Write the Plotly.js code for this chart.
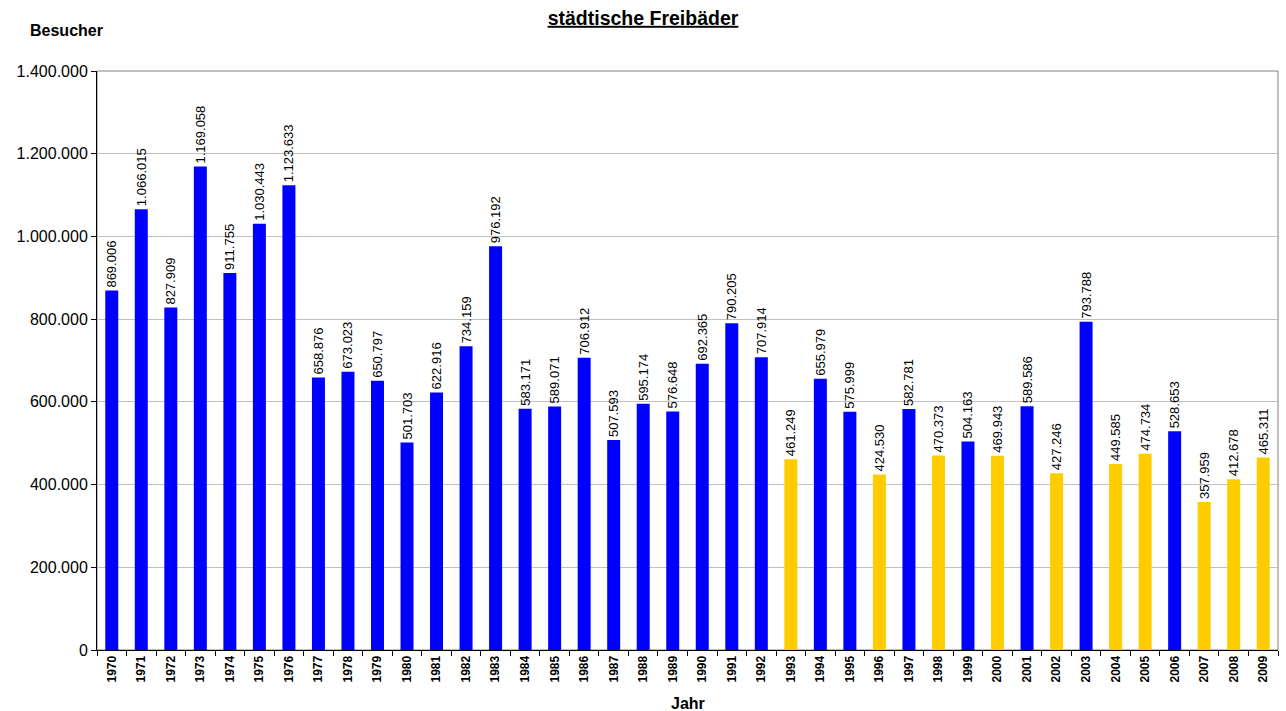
<!DOCTYPE html>
<html>
<head>
<meta charset="utf-8">
<script src="https://cdn.plot.ly/plotly-3.0.1.min.js"></script>
<style>html,body{margin:0;padding:0;background:#fff;}#chart{width:1286px;height:711px;}</style>
</head>
<body>
<div id="chart"></div>
<script>
const years = ["1970","1971","1972","1973","1974","1975","1976","1977","1978","1979",
  "1980","1981","1982","1983","1984","1985","1986","1987","1988","1989",
  "1990","1991","1992","1993","1994","1995","1996","1997","1998","1999",
  "2000","2001","2002","2003","2004","2005","2006","2007","2008","2009"];
const visitors = [869006,1066015,827909,1169058,911755,1030443,1123633,658876,673023,650797,
  501703,622916,734159,976192,583171,589071,706912,507593,595174,576648,
  692365,790205,707914,461249,655979,575999,424530,582781,470373,504163,
  469943,589586,427246,793788,449585,474734,528653,357959,412678,465311];
const highlightedYears = ["1993","1996","1998","2000","2002","2004","2005","2007","2008","2009"];
const yTicks = [0,200000,400000,600000,800000,1000000,1200000,1400000];

const BLUE = "#0000FF", YELLOW = "#FFCC00";
const colors = years.map(y => highlightedYears.includes(y) ? YELLOW : BLUE);
const FONT = "Liberation Sans, Arial, sans-serif";

const trace = {
  type: "bar",
  x: years,
  y: visitors,
  marker: {color: colors, line: {width: 0}},
  texttemplate: "%{y:,d}",
  textposition: "outside",
  textangle: -90,
  cliponaxis: false,
  constraintext: "none",
  textfont: {family: FONT, size: 13, color: "#000"},
  hoverinfo: "x+y"
};

const layout = {
  width: 1286, height: 711,
  margin: {l: 97, r: 8, t: 71, b: 61},
  paper_bgcolor: "#fff", plot_bgcolor: "#fff",
  separators: ",.",
  bargap: 0.56,
  showlegend: false,
  font: {family: FONT, color: "#000"},
  title: {
    text: "<b><u>städtische Freibäder</u></b>",
    font: {family: FONT, size: 19.5, color: "#000"},
    x: 0.5, xref: "container", xanchor: "center",
    y: 1 - 18/711, yref: "container", yanchor: "middle"
  },
  xaxis: {
    type: "category",
    tickson: "boundaries",
    ticks: "outside", ticklen: 5, tickcolor: "#000", tickwidth: 1,
    tickangle: -90,
    tickfont: {family: FONT, size: 12, color: "#000", weight: "bold"},
    showline: true, linecolor: "#000", linewidth: 1,
    showgrid: false, zeroline: false,
    fixedrange: true
  },
  yaxis: {
    range: [0, 1400000],
    tickvals: yTicks,
    tickformat: ",d",
    ticks: "outside", ticklen: 5, tickcolor: "#000", tickwidth: 1,
    tickfont: {family: FONT, size: 16, color: "#000"},
    showline: true, linecolor: "#000", linewidth: 1,
    showgrid: true, gridcolor: "#C0C0C0", gridwidth: 1,
    zeroline: false,
    fixedrange: true
  },
  shapes: [{
    type: "rect", xref: "paper", yref: "paper", x0: 0, x1: 1, y0: 0, y1: 1,
    line: {color: "#808080", width: 1}, layer: "below"
  }],
  annotations: [
    {text: "<b>Besucher</b>", xref: "paper", yref: "paper", x: (66-97)/1181, y: (650-31)/579,
     xanchor: "center", yanchor: "middle", showarrow: false, font: {family: FONT, size: 16, color: "#000"}},
    {text: "<b>Jahr</b>", xref: "paper", yref: "paper", x: 0.5, y: -(704-650)/579,
     xanchor: "center", yanchor: "middle", showarrow: false, font: {family: FONT, size: 16, color: "#000"}}
  ]
};

Plotly.newPlot("chart", [trace], layout, {displayModeBar: false, staticPlot: true});
</script>
</body>
</html>
